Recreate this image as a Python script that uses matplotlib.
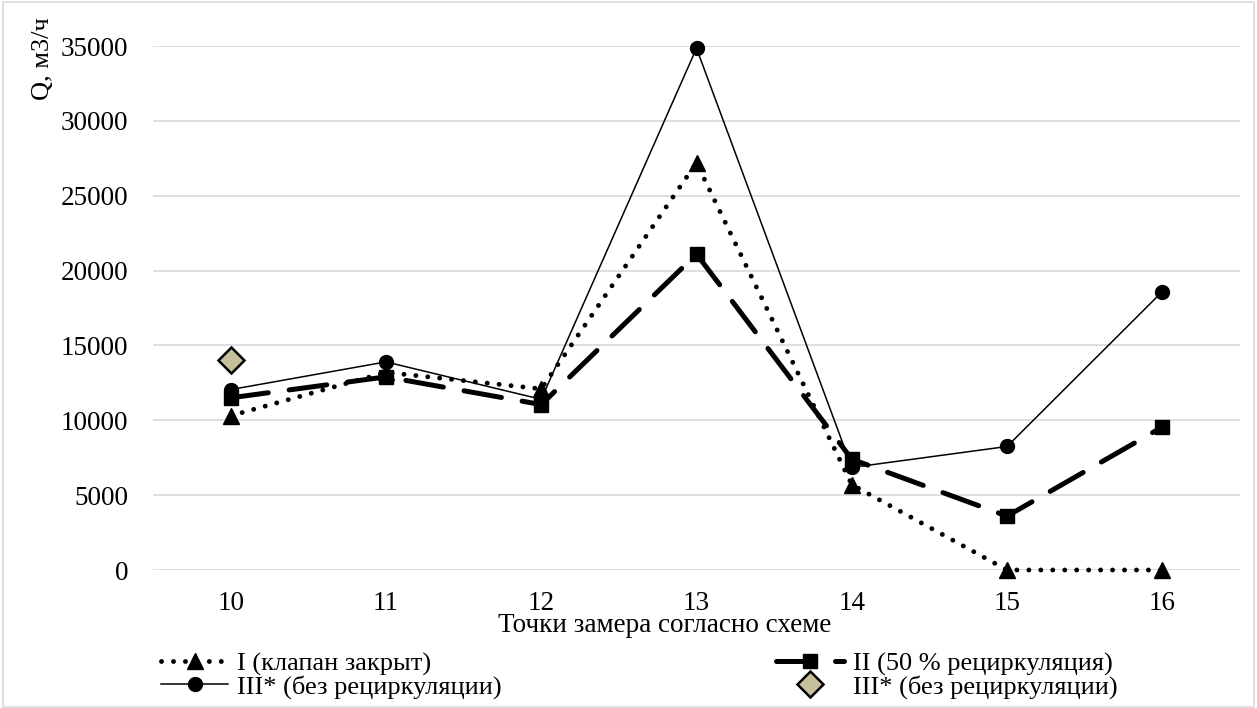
import matplotlib.pyplot as plt
from matplotlib.patches import Rectangle

points = [10, 11, 12, 13, 14, 15, 16]
s1 = [10300, 13200, 12100, 27200, 5700, 0, 0]
s2 = [11500, 12900, 11050, 21100, 7400, 3600, 9550]
s3 = [12050, 13900, 11400, 34850, 6850, 8250, 18600]
s4_x = [10]
s4_y = [14000]

names = ["I (клапан закрыт)", "II (50 % рециркуляция)",
         "III* (без рециркуляции)", "III* (без рециркуляции)"]

plt.rcParams['font.family'] = ['Liberation Serif', 'DejaVu Serif']

fig = plt.figure(figsize=(12.57, 7.08), dpi=100)
# plot area in pixels: x 153..1240, y 46..570
ax = fig.add_axes([153 / 1257, 1 - 570 / 708, 1087 / 1257, 524 / 708])

xs = list(range(len(points)))
l1, = ax.plot(xs, s1, color='black', lw=3.5, linestyle=(0, (0.01, 2.45)),
              dash_capstyle='round', marker='^', ms=12, zorder=3, clip_on=False)
l2, = ax.plot(xs, s2, color='black', lw=3.6, linestyle=(0, (7.6, 4.2)),
              dash_capstyle='round', marker='s', ms=9.5, zorder=3, clip_on=False)
l3, = ax.plot(xs, s3, color='black', lw=1.1, marker='o', ms=10, zorder=3, clip_on=False)
l4, = ax.plot([points.index(v) for v in s4_x], s4_y, linestyle='none', marker='D',
              ms=13, mfc='#c8c09c', mec='black', mew=1.8, zorder=4)

ax.set_xlim(-0.5, len(points) - 0.5)
ax.set_ylim(0, 35000)
ax.set_xticks(xs)
ax.set_xticklabels([str(p) for p in points])
ax.set_yticks(range(0, 35001, 5000))
ax.tick_params(axis='both', length=0, labelsize=19.5)
ax.tick_params(axis='y', pad=18)
ax.tick_params(axis='x', pad=15)
ax.grid(axis='y', color='#d9d9d9', lw=1.2)
ax.set_axisbelow(True)
for sp in ax.spines.values():
    sp.set_visible(False)

ax.set_xlabel("Точки замера согласно схеме", fontsize=19.5)
ax.xaxis.set_label_coords(0.471, -0.083)
ax.set_ylabel("Q, м3/ч", fontsize=19)
ax.yaxis.set_label_coords(-0.091, 0.975)

ax.legend([l1, l3, l2, l4], [names[0], names[2], names[1], names[3]],
          ncol=2, loc='upper left', bbox_to_anchor=(0.128, 0.079),
          bbox_transform=fig.transFigure, frameon=False, fontsize=19,
          handlelength=2.55, handletextpad=0.35, labelspacing=-0.05,
          columnspacing=10.4, borderpad=0, borderaxespad=0)

fig.patches.append(Rectangle((0.002, 0.002), 0.996, 0.995, transform=fig.transFigure,
                             fill=False, edgecolor='#d9d9d9', lw=1.2))

fig.savefig("out.png", dpi=100)
